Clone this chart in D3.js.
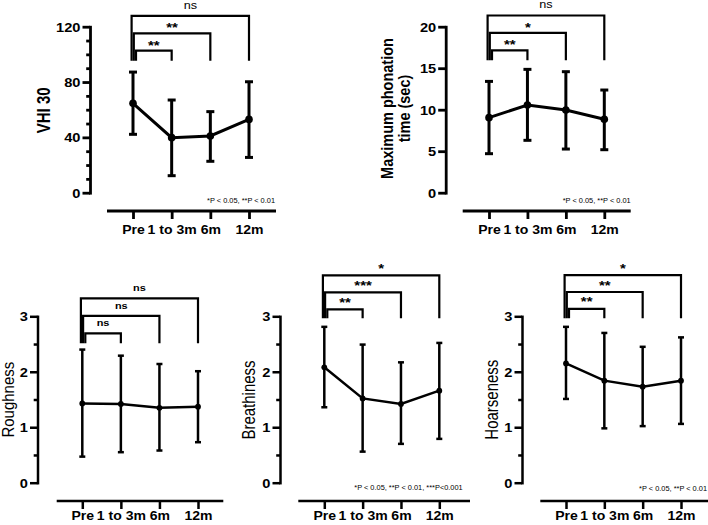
<!DOCTYPE html>
<html><head><meta charset="utf-8">
<script src="https://cdn.jsdelivr.net/npm/d3@7"></script>
<style>
body{margin:0;background:#fff}
svg{display:block}
text{font-family:"Liberation Sans",Arial,Helvetica,sans-serif;fill:#000}
</style>
</head><body>
<svg id="chart" width="708" height="525"></svg>
<script>
// ---------- data ----------
const categories = ["Pre", "1 to 3m", "6m", "12m"];
const comparisons = ["1 to 3m", "6m", "12m"];

const vhiMean = [64.6, 39.8, 41.0, 53.0];
const vhiLow  = [42.2, 12.3, 22.7, 25.5];
const vhiHigh = [87.2, 67.0, 58.6, 80.2];
const vhiSig  = ["**", "**", "ns"];
const vhiTicks = [0, 40, 80, 120];
const vhiMinor = [10, 20, 30, 50, 60, 70, 90, 100, 110];

const mptMean = [9.04, 10.56, 9.96, 8.84];
const mptLow  = [4.70, 6.31, 5.26, 5.18];
const mptHigh = [13.41, 14.86, 14.58, 12.37];
const mptSig  = ["**", "*", "ns"];
const mptTicks = [0, 5, 10, 15, 20];
const mptMinor = [];

const roughMean = [1.43, 1.42, 1.35, 1.37];
const roughLow  = [0.47, 0.55, 0.58, 0.73];
const roughHigh = [2.40, 2.29, 2.14, 2.01];
const roughSig  = ["ns", "ns", "ns"];

const breathMean = [2.08, 1.52, 1.42, 1.66];
const breathLow  = [1.36, 0.56, 0.70, 0.79];
const breathHigh = [2.81, 2.49, 2.17, 2.52];
const breathSig  = ["**", "***", "*"];

const hoarseMean = [2.15, 1.84, 1.73, 1.84];
const hoarseLow  = [1.51, 0.98, 1.02, 1.06];
const hoarseHigh = [2.81, 2.70, 2.45, 2.62];
const hoarseSig  = ["**", "**", "*"];

const grbTicks = [0, 1, 2, 3];
const grbMinor = [0.5, 1.5, 2.5];

const footTwo = "*P < 0.05, **P < 0.01";
const footThree = "*P < 0.05, **P < 0.01, ***P<0.001";

// ---------- layout ----------
const svg = d3.select("#chart");
const FONT = '"Liberation Sans",Arial,sans-serif';

function stretchText(g, x, y, str, o) {
  return g.append("text")
    .attr("transform", `translate(${x},${y}) scale(${o.sx || 1},1)` + (o.rotate ? " rotate(-90)" : ""))
    .attr("text-anchor", o.anchor || "middle")
    .style("font-size", o.size + "px")
    .style("font-weight", o.weight || "normal")
    .text(str);
}

const panels = [
  { mean: vhiMean, low: vhiLow, high: vhiHigh, sig: vhiSig, ticks: vhiTicks, minor: vhiMinor, yMax: 120,
    title: ["VHI 30"], titleBold: true, titleSize: 15, titleSx: 1.25, titleX: [49.7], titleY: 110.3,
    yAxisX: 90, yTop: 26.7, yBot: 192.7, preX: 133, lastX: 249, xAxisY: 211, xLine: [107, 276],
    labelBase: 23, big: true,
    legBottom: 60.7, bOff: 10, bStep: 17.4, nsSize: 11, nsBold: false, nsLift: 7.4, astLift: 1.2,
    foot: footTwo, footX: 275, footY: 202.6 },
  { mean: mptMean, low: mptLow, high: mptHigh, sig: mptSig, ticks: mptTicks, minor: mptMinor, yMax: 20,
    title: ["Maximum phonation", "time (sec)"], titleBold: true, titleSize: 14.5, titleSx: 1.15, titleX: [393.3, 409.8], titleY: 108.5,
    yAxisX: 445.7, yTop: 26.7, yBot: 192.7, preX: 489, lastX: 604.3, xAxisY: 211, xLine: [462.7, 630.7],
    labelBase: 23, big: true,
    legBottom: 60.3, bOff: 10, bStep: 17.4, nsSize: 11, nsBold: false, nsLift: 7.4, astLift: 1.2,
    foot: footTwo, footX: 630.7, footY: 202.6 },
  { mean: roughMean, low: roughLow, high: roughHigh, sig: roughSig, ticks: grbTicks, minor: grbMinor, yMax: 3,
    title: ["Roughness"], titleBold: false, titleSize: 15, titleSx: 1.1, titleX: [14], titleY: 399.7,
    yAxisX: 37.5, yTop: 316.3, yBot: 482.7, preX: 82.3, lastX: 198, xAxisY: 501, xLine: [56.7, 223.3],
    labelBase: 18.5, big: false,
    legBottom: 343.3, bOff: 10, bStep: 17.5, nsSize: 9.5, nsBold: true, nsLift: 7, astLift: 2.5,
    foot: null },
  { mean: breathMean, low: breathLow, high: breathHigh, sig: breathSig, ticks: grbTicks, minor: grbMinor, yMax: 3,
    title: ["Breathiness"], titleBold: false, titleSize: 15, titleSx: 1.2, titleX: [255.3], titleY: 400,
    yAxisX: 280, yTop: 316.3, yBot: 482.7, preX: 324.3, lastX: 439.3, xAxisY: 501, xLine: [298.3, 470],
    labelBase: 18.5, big: false,
    legBottom: 318.3, bOff: 9, bStep: 17, nsSize: 9.5, nsBold: true, nsLift: 7, astLift: 2.5,
    foot: footThree, footX: 462.7, footY: 490.4 },
  { mean: hoarseMean, low: hoarseLow, high: hoarseHigh, sig: hoarseSig, ticks: grbTicks, minor: grbMinor, yMax: 3,
    title: ["Hoarseness"], titleBold: false, titleSize: 15, titleSx: 1.2, titleX: [498], titleY: 399.7,
    yAxisX: 522, yTop: 316.3, yBot: 482.7, preX: 566, lastX: 681, xAxisY: 501, xLine: [540.3, 708],
    labelBase: 18.5, big: false,
    legBottom: 318.3, bOff: 9.5, bStep: 16.8, nsSize: 9.5, nsBold: true, nsLift: 7, astLift: 2.5,
    foot: footTwo, footX: 707, footY: 490.8 }
];

panels.forEach(p => {
  const g = svg.append("g");
  const y = d3.scaleLinear().domain([0, p.yMax]).range([p.yBot, p.yTop]);
  const x = d3.scalePoint().domain(categories).range([p.preX, p.lastX]);
  const axW = p.big ? 2.8 : 2.5;
  const dataW = p.big ? 3 : 2.5;

  // y axis (major)
  const yg = g.append("g").attr("transform", `translate(${p.yAxisX},0)`)
    .call(d3.axisLeft(y).tickValues(p.ticks).tickSize(7.5).tickSizeOuter(0).tickPadding(2).tickFormat(d3.format("d")));
  yg.select(".domain").attr("stroke-width", axW).attr("stroke-linecap", "square");
  yg.selectAll(".tick line").attr("stroke-width", axW);
  yg.selectAll(".tick text").each(function() {
    d3.select(this).attr("x", null).attr("dy", null)
      .attr("transform", `translate(-9.5,4.3) scale(1.22,1)`)
      .style("font-size", "12px").style("font-weight", "bold").style("font-family", FONT);
  });
  // minor ticks
  if (p.minor.length) {
    const mg = g.append("g").attr("transform", `translate(${p.yAxisX},0)`)
      .call(d3.axisLeft(y).tickValues(p.minor).tickSize(3.8).tickSizeOuter(0).tickFormat(""));
    mg.select(".domain").remove();
    mg.selectAll(".tick line").attr("stroke-width", axW);
  }

  // x axis
  const xg = g.append("g").attr("transform", `translate(0,${p.xAxisY})`)
    .call(d3.axisBottom(x).tickSize(8).tickSizeOuter(0));
  xg.select(".domain").remove();
  xg.append("line").attr("x1", p.xLine[0]).attr("x2", p.xLine[1]).attr("y1", 0).attr("y2", 0)
    .attr("stroke", "#000").attr("stroke-width", axW);
  xg.selectAll(".tick line").attr("stroke-width", axW);
  xg.selectAll(".tick text").each(function() {
    d3.select(this).attr("y", null).attr("dy", null)
      .attr("transform", `translate(0,${p.labelBase}) scale(1.17,1)`)
      .style("font-size", "12px").style("font-weight", "bold").style("font-family", FONT);
  });

  // y title
  p.title.forEach((line, i) => {
    stretchText(g, p.titleX[i], p.titleY, line,
      { size: p.titleSize, sx: p.titleSx, rotate: true, weight: p.titleBold ? "bold" : "normal" });
  });

  // error bars
  const cap = p.big ? 4 : 3;
  const eb = g.append("g").attr("stroke", "#000").attr("stroke-width", dataW);
  categories.forEach((c, i) => {
    eb.append("line").attr("x1", x(c)).attr("x2", x(c)).attr("y1", y(p.low[i])).attr("y2", y(p.high[i]));
    eb.append("line").attr("x1", x(c) - cap).attr("x2", x(c) + cap).attr("y1", y(p.low[i])).attr("y2", y(p.low[i]));
    eb.append("line").attr("x1", x(c) - cap).attr("x2", x(c) + cap).attr("y1", y(p.high[i])).attr("y2", y(p.high[i]));
  });

  // mean line and points
  const pts = categories.map((c, i) => [x(c), y(p.mean[i])]);
  g.append("path").attr("d", d3.line()(pts)).attr("fill", "none").attr("stroke", "#000").attr("stroke-width", dataW);
  g.selectAll("circle.pt").data(pts).enter().append("circle").attr("class", "pt")
    .attr("cx", d => d[0]).attr("cy", d => d[1]).attr("r", p.big ? 3.8 : 2.9).attr("fill", "#000");

  // significance brackets
  const leftOff = [3, 0.8, -1.4];
  comparisons.forEach((c, j) => {
    const lvl = p.legBottom - p.bOff - j * p.bStep;
    const lx = x("Pre") + leftOff[j];
    const rx = x(c);
    g.append("path").attr("d", `M${lx},${p.legBottom}V${lvl}H${rx}V${p.legBottom}`)
      .attr("fill", "none").attr("stroke", "#000").attr("stroke-width", 2.2);
    const lab = p.sig[j];
    const mx = (lx + rx) / 2;
    if (lab === "ns") {
      stretchText(g, mx, lvl - p.nsLift, lab, { size: p.nsSize, sx: 1.15, weight: p.nsBold ? "bold" : "normal" });
    } else {
      stretchText(g, mx, lvl - p.astLift, lab, { size: 13, sx: 1.15, weight: "bold" });
    }
  });

  // footnote
  if (p.foot) {
    stretchText(g, p.footX, p.footY, p.foot, { size: 7.4, sx: 1, anchor: "end" });
  }
});
</script>
</body></html>
